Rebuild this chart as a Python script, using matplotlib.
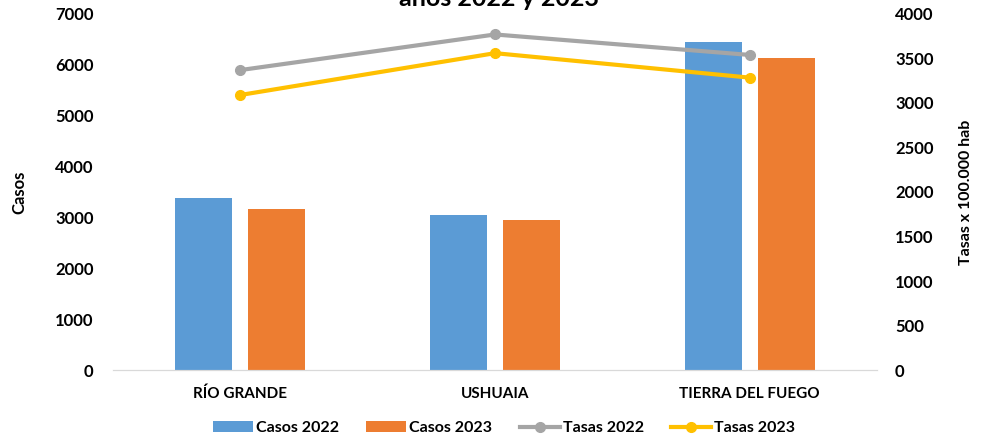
import matplotlib
matplotlib.use("Agg")
import matplotlib.pyplot as plt
import numpy as np

categories = ["RÍO GRANDE", "USHUAIA", "TIERRA DEL FUEGO"]
casos_2022 = [3380, 3050, 6440]
casos_2023 = [3160, 2940, 6130]
tasas_2022 = [3370, 3770, 3540]
tasas_2023 = [3090, 3560, 3285]

plt.rcParams['font.family'] = ['Lato', 'DejaVu Sans']
plt.rcParams['font.weight'] = 'bold'

fig = plt.figure(figsize=(9.82, 4.4), dpi=100)
ax = fig.add_axes([113/982, 70/440, 764/982, 356/440])
ax2 = ax.twinx()

x = np.arange(len(categories))
w = 0.224
off = 0.143
b1 = ax.bar(x - off, casos_2022, w, color='#5B9BD5', label='Casos 2022', zorder=2)
b2 = ax.bar(x + off, casos_2023, w, color='#ED7D31', label='Casos 2023', zorder=2)
l1, = ax2.plot(x, tasas_2022, color='#A5A5A5', lw=3, marker='o', ms=7, label='Tasas 2022')
l2, = ax2.plot(x, tasas_2023, color='#FFC000', lw=3, marker='o', ms=7, label='Tasas 2023')

ax.set_xlim(-0.5, 2.5)
ax.set_ylim(0, 7000)
ax2.set_ylim(0, 4000)
ax.set_yticks(range(0, 7001, 1000))
ax2.set_yticks(range(0, 4001, 500))
ax.set_xticks(x)
ax.set_xticklabels(categories, fontsize=11, fontweight='bold')
for a in (ax, ax2):
    for s in ('top', 'left', 'right'):
        a.spines[s].set_visible(False)
    a.spines['bottom'].set_color('#D9D9D9')
    a.tick_params(length=0)
ax.tick_params(axis='y', labelsize=12, pad=14)
ax2.tick_params(axis='y', labelsize=12, pad=13)
ax.tick_params(axis='x', pad=12)
for t in ax.get_yticklabels() + ax2.get_yticklabels():
    t.set_fontweight('bold')

ax.set_ylabel('Casos', fontsize=12, fontweight='bold', labelpad=20)
ax2.set_ylabel('Tasas x 100.000 hab', fontsize=11.5, fontweight='bold', labelpad=18)

fig.text(0.508, 1 - 6/440, 'años 2022 y 2023', ha='center', va='baseline',
         fontsize=18, fontweight='bold')

fig.legend([b1, b2, l1, l2], ['Casos 2022', 'Casos 2023', 'Tasas 2022', 'Tasas 2023'],
           loc='center', bbox_to_anchor=(504/982, 1 - 428/440), ncol=4, frameon=False,
           fontsize=11.5, handlelength=2.5, columnspacing=1.7, handletextpad=0.2)

fig.savefig('out.png', dpi=100)
